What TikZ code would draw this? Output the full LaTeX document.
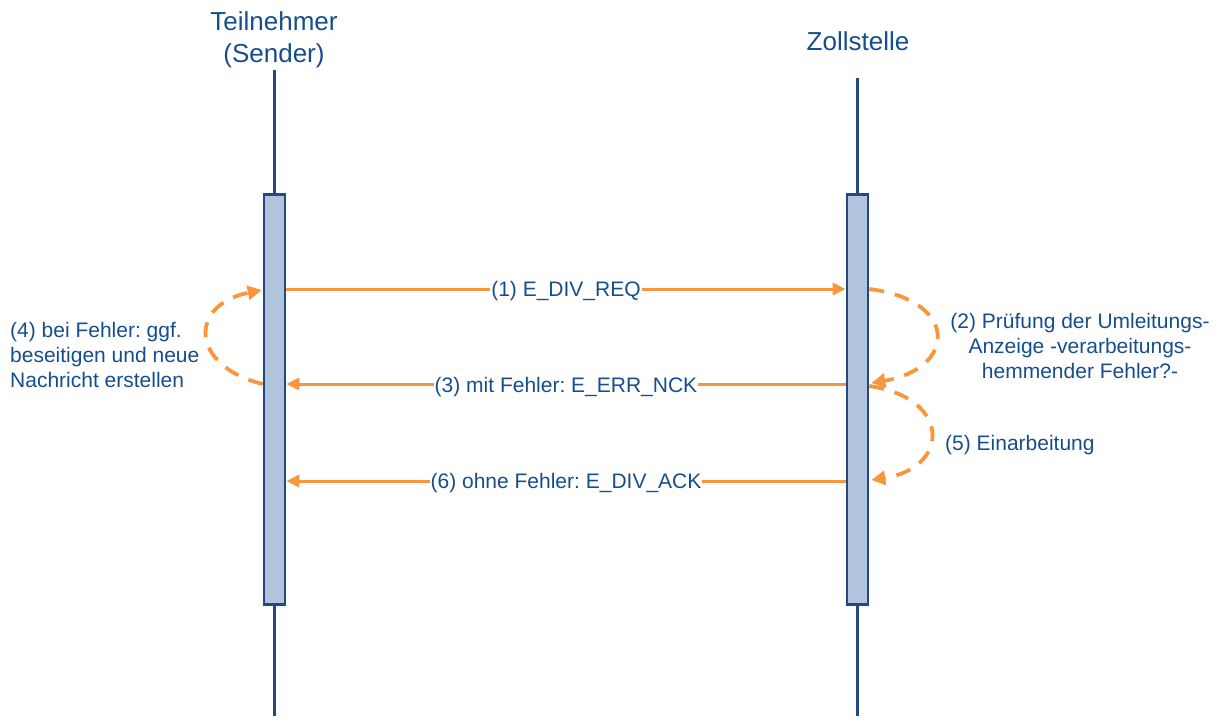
\documentclass[tikz,border=0pt]{standalone}
\usepackage{fontspec}
\setmainfont{Liberation Sans}
\frenchspacing
\usetikzlibrary{arrows.meta,calc}
\definecolor{txtblue}{RGB}{22,78,140}
\definecolor{lineblue}{RGB}{36,72,128}
\definecolor{barfill}{RGB}{176,196,222}
\definecolor{msgorange}{RGB}{247,150,60}
\tikzset{
  lifeline/.style={draw=lineblue, line width=3pt},
  actbar/.style={draw=lineblue, fill=barfill, line width=2.6pt, minimum width=21pt, minimum height=410pt, inner sep=0pt, anchor=north},
  msg/.style={draw=msgorange, line width=3pt, -{Triangle[length=13pt,width=12pt]}},
  loopmsg/.style={draw=msgorange, line width=3.8pt, dash pattern=on 15pt off 11pt, -{Triangle[length=14pt,width=14pt]}},
  msglabel/.style={fill=white, text=txtblue, inner sep=1pt, font=\fontsize{21}{25}\selectfont, anchor=base},
  note/.style={text=txtblue, inner sep=0pt, font=\fontsize{21}{25}\selectfont},
  head/.style={text=txtblue, inner sep=0pt, align=center, font=\fontsize{26}{32}\selectfont, anchor=base}
}
\begin{document}
\begin{tikzpicture}[x=1pt,y=-1pt]
\useasboundingbox (0,0) rectangle (1220,716);
% heads
\node[head] (hL) at (274,62) {Teilnehmer\\(Sender)};
\node[head] (hR) at (858,50) {Zollstelle};
% lifelines
\coordinate (Ltop) at (274,70);
\coordinate (Lbot) at (274,716);
\coordinate (Rtop) at (857,78);
\coordinate (Rbot) at (857,716);
\draw[lifeline] (Ltop) -- (Lbot);
\draw[lifeline] (Rtop) -- (Rbot);
% activation bars
\node[actbar] (Lbar) at (274.5,193) {};
\node[actbar] (Rbar) at (857.5,193) {};
% message anchors
\coordinate (m1) at (0,289);
\coordinate (m3) at (0,384);
\coordinate (m6) at (0,481);
% messages
\draw[msg] (Lbar.east |- m1) -- (Rbar.west |- m1);
\draw[msg] (Rbar.west |- m3) -- (Lbar.east |- m3);
\draw[msg] (Rbar.west |- m6) -- (Lbar.east |- m6);
\node[msglabel] (l1) at (566,296) {(1) E\_DIV\_REQ};
\node[msglabel] (l3) at (566,392) {(3) mit Fehler: E\_ERR\_NCK};
\node[msglabel] (l6) at (566,488) {(6) ohne Fehler: E\_DIV\_ACK};
% self loops
\draw[loopmsg] (Lbar.west |- m3) .. controls (190,366) and (188,305) .. ($(Lbar.west |- m1)+(-1,1)$);
\draw[loopmsg] (Rbar.east |- m1) .. controls (958,300) and (958,368) .. ($(Rbar.east |- m3)+(2,-1)$);
\draw[loopmsg] ($(Rbar.east |- m3)+(0,2)$) .. controls (952,398) and (950,468) .. ($(Rbar.east |- m6)+(2,-1)$);
% notes
\node[note, align=left, anchor=base west] (n4) at (10,387) {(4) bei Fehler: ggf.\\beseitigen und neue\\Nachricht erstellen};
\node[note, align=center, anchor=base] (n2) at (1080,378) {(2) Prüfung der Umleitungs-\\Anzeige -verarbeitungs-\\hemmender Fehler?-};
\node[note, anchor=base west] (n5) at (945,450) {(5) Einarbeitung};
\end{tikzpicture}
\end{document}
